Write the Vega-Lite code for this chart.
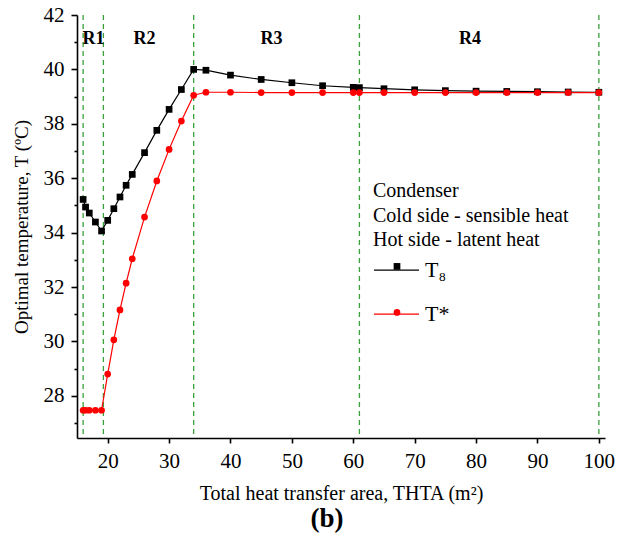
{
  "$schema": "https://vega.github.io/schema/vega-lite/v6.json",
  "width": 528,
  "height": 423,
  "autosize": {"type": "none"},
  "padding": {"left": 77, "top": 15, "right": 18, "bottom": 101},
  "background": "white",
  "config": {"view": {"stroke": null}, "font": "Liberation Serif"},
  "title": {"text": "(b)", "orient": "bottom", "anchor": "middle", "font": "Liberation Serif", "fontSize": 27, "fontWeight": "bold", "color": "black", "offset": 3, "dx": -14},
  "resolve": {"axis": {"y": "independent"}},
  "datasets": {
    "curves": [
      {"A": 16, "T": 35.22, "series": "T8"},
      {"A": 16.4, "T": 34.94, "series": "T8"},
      {"A": 17, "T": 34.72, "series": "T8"},
      {"A": 18, "T": 34.39, "series": "T8"},
      {"A": 19, "T": 34.06, "series": "T8"},
      {"A": 20, "T": 34.45, "series": "T8"},
      {"A": 21, "T": 34.88, "series": "T8"},
      {"A": 22, "T": 35.31, "series": "T8"},
      {"A": 23, "T": 35.74, "series": "T8"},
      {"A": 24, "T": 36.14, "series": "T8"},
      {"A": 26, "T": 36.94, "series": "T8"},
      {"A": 28, "T": 37.76, "series": "T8"},
      {"A": 30, "T": 38.53, "series": "T8"},
      {"A": 32, "T": 39.26, "series": "T8"},
      {"A": 34, "T": 40.0, "series": "T8"},
      {"A": 36, "T": 39.97, "series": "T8"},
      {"A": 40, "T": 39.79, "series": "T8"},
      {"A": 45, "T": 39.63, "series": "T8"},
      {"A": 50, "T": 39.51, "series": "T8"},
      {"A": 55, "T": 39.4, "series": "T8"},
      {"A": 60, "T": 39.34, "series": "T8"},
      {"A": 61, "T": 39.33, "series": "T8"},
      {"A": 65, "T": 39.29, "series": "T8"},
      {"A": 70, "T": 39.25, "series": "T8"},
      {"A": 75, "T": 39.22, "series": "T8"},
      {"A": 80, "T": 39.2, "series": "T8"},
      {"A": 85, "T": 39.19, "series": "T8"},
      {"A": 90, "T": 39.18, "series": "T8"},
      {"A": 95, "T": 39.17, "series": "T8"},
      {"A": 100, "T": 39.16, "series": "T8"},
      {"A": 16, "T": 27.47, "series": "T*"},
      {"A": 16.4, "T": 27.47, "series": "T*"},
      {"A": 17, "T": 27.47, "series": "T*"},
      {"A": 18, "T": 27.47, "series": "T*"},
      {"A": 19, "T": 27.47, "series": "T*"},
      {"A": 20, "T": 28.8, "series": "T*"},
      {"A": 21, "T": 30.06, "series": "T*"},
      {"A": 22, "T": 31.16, "series": "T*"},
      {"A": 23, "T": 32.14, "series": "T*"},
      {"A": 24, "T": 33.04, "series": "T*"},
      {"A": 26, "T": 34.57, "series": "T*"},
      {"A": 28, "T": 35.9, "series": "T*"},
      {"A": 30, "T": 37.06, "series": "T*"},
      {"A": 32, "T": 38.1, "series": "T*"},
      {"A": 34, "T": 39.05, "series": "T*"},
      {"A": 36, "T": 39.16, "series": "T*"},
      {"A": 40, "T": 39.16, "series": "T*"},
      {"A": 45, "T": 39.15, "series": "T*"},
      {"A": 50, "T": 39.15, "series": "T*"},
      {"A": 55, "T": 39.15, "series": "T*"},
      {"A": 60, "T": 39.15, "series": "T*"},
      {"A": 61, "T": 39.15, "series": "T*"},
      {"A": 65, "T": 39.15, "series": "T*"},
      {"A": 70, "T": 39.15, "series": "T*"},
      {"A": 75, "T": 39.15, "series": "T*"},
      {"A": 80, "T": 39.15, "series": "T*"},
      {"A": 85, "T": 39.15, "series": "T*"},
      {"A": 90, "T": 39.15, "series": "T*"},
      {"A": 95, "T": 39.15, "series": "T*"},
      {"A": 100, "T": 39.15, "series": "T*"}
    ],
    "bounds": [{"A": 16}, {"A": 19.3}, {"A": 34}, {"A": 61}, {"A": 100}],
    "regions": [
      {"A": 17.7, "label": "R1"},
      {"A": 26, "label": "R2"},
      {"A": 46.7, "label": "R3"},
      {"A": 79, "label": "R4"}
    ]
  },
  "layer": [
    {
      "data": {"name": "bounds"},
      "mark": {"type": "rule", "color": "#3aa03a", "strokeDash": [5, 4], "strokeWidth": 1.3},
      "encoding": {
        "x": {
          "field": "A", "type": "quantitative",
          "scale": {"domain": [15, 101], "nice": false, "zero": false},
          "axis": {
            "title": "Total heat transfer area, THTA (m²)",
            "values": [20, 25, 30, 35, 40, 45, 50, 55, 60, 65, 70, 75, 80, 85, 90, 95, 100],
            "labelExpr": "datum.value % 10 === 0 ? datum.label : ''",
            "tickSize": {"condition": {"test": "datum.value % 10 === 0", "value": 5}, "value": 3},
            "grid": false, "domainColor": "black", "domainWidth": 1.6, "tickColor": "black", "tickWidth": 1.6,
            "labelFont": "Liberation Serif", "labelFontSize": 21, "labelColor": "black", "labelPadding": 7,
            "labelFlush": false, "labelOverlap": false,
            "titleFont": "Liberation Serif", "titleFontSize": 20, "titleFontWeight": "normal", "titleColor": "black", "titlePadding": 12
          }
        }
      }
    },
    {
      "data": {"name": "curves"},
      "mark": {"type": "line", "strokeWidth": 1.2},
      "encoding": {
        "x": {"field": "A", "type": "quantitative", "title": "Total heat transfer area, THTA (m²)"},
        "y": {
          "field": "T", "type": "quantitative",
          "scale": {"domain": [26.45, 42], "nice": false, "zero": false},
          "axis": {
            "orient": "left",
            "title": "Optimal temperature, T (ºC)",
            "values": [28, 30, 32, 34, 36, 38, 40, 42],
            "format": "d",
            "tickSize": 6,
            "grid": false, "domainColor": "black", "domainWidth": 1.6, "tickColor": "black", "tickWidth": 1.6,
            "labelFont": "Liberation Serif", "labelFontSize": 21, "labelColor": "black", "labelPadding": 7,
            "labelFlush": false, "labelOverlap": false,
            "titleFont": "Liberation Serif", "titleFontSize": 19, "titleFontWeight": "normal", "titleColor": "black", "titlePadding": 12
          }
        },
        "stroke": {
          "field": "series", "type": "nominal",
          "scale": {"domain": ["T8", "T*"], "range": ["#000000", "#ff0000"]},
          "legend": {
            "title": null,
            "orient": "none", "legendX": 296, "legendY": 231.7, "padding": 0,
            "labelFont": "Liberation Serif", "labelFontSize": 22, "labelColor": "black",
            "labelExpr": "datum.value === 'T8' ? 'T₈' : 'T*'",
            "symbolType": "stroke", "symbolSize": 2025, "symbolStrokeWidth": 1.2,
            "rowPadding": 9, "labelOffset": 5
          }
        }
      }
    },
    {
      "data": {"name": "curves"},
      "mark": {"type": "point", "filled": true, "size": 45, "opacity": 1, "strokeWidth": 0},
      "encoding": {
        "x": {"field": "A", "type": "quantitative", "title": "Total heat transfer area, THTA (m²)"},
        "y": {
          "field": "T", "type": "quantitative",
          "axis": {
            "orient": "left", "title": null, "labels": false, "domain": false, "grid": false,
            "values": [27, 29, 31, 33, 35, 37, 39, 41],
            "tickSize": 3, "tickColor": "black", "tickWidth": 1.6
          }
        },
        "shape": {
          "field": "series", "type": "nominal",
          "scale": {"range": ["circle", "square"]},
          "legend": {
            "title": ["Condenser", "Cold side - sensible heat", "Hot side - latent heat"],
            "values": ["T8", "T*"],
            "orient": "none", "legendX": 296, "legendY": 166, "padding": 0,
            "titleFont": "Liberation Serif", "titleFontSize": 20, "titleFontWeight": "normal", "titleColor": "black",
            "titleLineHeight": 24.5, "titlePadding": 5.4, "titleLimit": 400,
            "labelFont": "Liberation Serif", "labelFontSize": 22, "labelOpacity": 0,
            "labelExpr": "''",
            "symbolSize": 45, "symbolOffset": 13, "symbolStrokeWidth": 0,
            "rowPadding": 24, "labelOffset": 5
          }
        },
        "fill": {
          "field": "series", "type": "nominal",
          "scale": {"range": ["#ff0000", "#000000"]},
          "legend": {
            "title": ["Condenser", "Cold side - sensible heat", "Hot side - latent heat"],
            "values": ["T8", "T*"],
            "orient": "none", "legendX": 296, "legendY": 166, "padding": 0,
            "titleFont": "Liberation Serif", "titleFontSize": 20, "titleFontWeight": "normal", "titleColor": "black",
            "titleLineHeight": 24.5, "titlePadding": 5.4, "titleLimit": 400,
            "labelFont": "Liberation Serif", "labelFontSize": 22, "labelOpacity": 0,
            "labelExpr": "''",
            "symbolSize": 45, "symbolOffset": 13, "symbolStrokeWidth": 0,
            "rowPadding": 24, "labelOffset": 5
          }
        }
      }
    },
    {
      "data": {"name": "regions"},
      "mark": {"type": "text", "font": "Liberation Serif", "fontWeight": "bold", "fontSize": 18, "baseline": "alphabetic", "color": "black"},
      "encoding": {
        "x": {"field": "A", "type": "quantitative", "title": "Total heat transfer area, THTA (m²)"},
        "y": {"datum": 40.92, "type": "quantitative", "axis": null},
        "text": {"field": "label"}
      }
    }
  ]
}
